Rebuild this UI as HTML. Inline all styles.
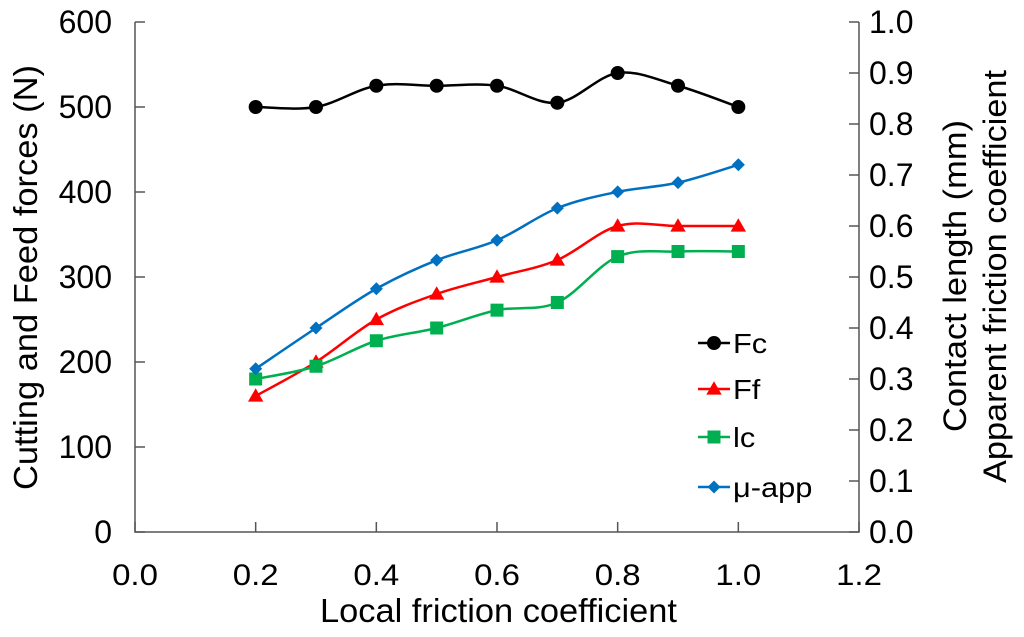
<!DOCTYPE html>
<html><head><meta charset="utf-8"><style>
html,body{margin:0;padding:0;background:#fff;}
svg{display:block;font-family:"Liberation Sans",Arial,sans-serif;}
</style></head><body>
<svg id="chart" width="1024" height="637" viewBox="0 0 1024 637"></svg>
<script>
const xCategories=[0.2,0.3,0.4,0.5,0.6,0.7,0.8,0.9,1.0];
const fcValues=[500,500,525,525,525,505,540,525,500];
const ffValues=[160,200,250,280,300,320,360,360,360];
const lcValues=[0.30,0.325,0.375,0.40,0.435,0.45,0.54,0.55,0.55];
const muValues=[0.32,0.40,0.477,0.533,0.572,0.635,0.667,0.685,0.72];
const xTicks=["0.0","0.2","0.4","0.6","0.8","1.0","1.2"];
const yLeftTicks=["0","100","200","300","400","500","600"];
const yRightTicks=["0.0","0.1","0.2","0.3","0.4","0.5","0.6","0.7","0.8","0.9","1.0"];

const L=135,R=859,T=22,B=532;
const xs=v=>L+(v/1.2)*(R-L);
const yl=v=>B-(v/600)*(B-T);
const yr=v=>B-(v/1.0)*(B-T);
const svg=document.getElementById('chart');
const NS='http://www.w3.org/2000/svg';
function mk(tag,attrs,parent){const e=document.createElementNS(NS,tag);for(const k in attrs)e.setAttribute(k,attrs[k]);(parent||svg).appendChild(e);return e;}

const ax=mk('g',{});


mk('path',{d:`M${L},${T}V${B}H${R}V${T}`,fill:'none',stroke:'#555','stroke-width':1.5},ax);
xTicks.forEach((t,i)=>{const x=xs(i*0.2);
 mk('line',{x1:x,x2:x,y1:B,y2:B-10,stroke:'#555','stroke-width':1.5},ax);
 const tx=mk('text',{transform:`translate(${x},${B+53}) scale(1.1,1)`,'text-anchor':'middle','font-size':30,fill:'#000'},ax);tx.textContent=t;
 
 });
yLeftTicks.forEach((t,i)=>{const y=yl(i*100);
 mk('line',{x1:L,x2:L+10,y1:y,y2:y,stroke:'#555','stroke-width':1.5},ax);
 const tx=mk('text',{x:112,y:y+11,'text-anchor':'end','font-size':32,fill:'#000'},ax);tx.textContent=t;
 
 });
yRightTicks.forEach((t,i)=>{const y=yr(i*0.1);
 mk('line',{x1:R,x2:R-10,y1:y,y2:y,stroke:'#555','stroke-width':1.5},ax);
 const tx=mk('text',{x:869,y:y+11,'text-anchor':'start','font-size':32,fill:'#000'},ax);tx.textContent=t;
 
 });

let t1=mk('text',{x:320,y:622,'font-size':33,textLength:357,lengthAdjust:'spacingAndGlyphs'});t1.textContent='Local friction coefficient';


let t2=mk('text',{x:0,y:0,'font-size':33,textLength:425,lengthAdjust:'spacingAndGlyphs',transform:`translate(37,490) rotate(-90)`});t2.textContent='Cutting and Feed forces (N)';


let t3=mk('text',{x:0,y:0,'font-size':32,textLength:312,lengthAdjust:'spacingAndGlyphs',transform:`translate(966,432) rotate(-90)`});t3.textContent='Contact length (mm)';


let t4=mk('text',{x:0,y:0,'font-size':32,textLength:413,lengthAdjust:'spacingAndGlyphs',transform:`translate(1006,483) rotate(-90)`});t4.textContent='Apparent friction coefficient';



function smooth(pts){let d=`M${pts[0][0]},${pts[0][1]}`;
 for(let i=0;i<pts.length-1;i++){const p0=pts[i-1]||pts[i],p1=pts[i],p2=pts[i+1],p3=pts[i+2]||p2;
  const c1=[p1[0]+(p2[0]-p0[0])/6,p1[1]+(p2[1]-p0[1])/6],c2=[p2[0]-(p3[0]-p1[0])/6,p2[1]-(p3[1]-p1[1])/6];
  d+=`C${c1[0]},${c1[1]} ${c2[0]},${c2[1]} ${p2[0]},${p2[1]}`;}return d;}
function marker(g,type,x,y,col,s){
 if(type==='circle')mk('circle',{cx:x,cy:y,r:s,fill:col},g);
 else if(type==='tri')mk('polygon',{points:`${x},${y-s*1.1} ${x+s*1.1},${y+s*0.8} ${x-s*1.1},${y+s*0.8}`,fill:col},g);
 else if(type==='sq')mk('rect',{x:x-s,y:y-s,width:2*s,height:2*s,fill:col},g);
 else mk('polygon',{points:`${x},${y-s} ${x+s},${y} ${x},${y+s} ${x-s},${y}`,fill:col},g);}
const series=[
 {name:'Fc',vals:fcValues,f:yl,col:'#000',m:'circle',s:7,ly:343},
 {name:'Ff',vals:ffValues,f:yl,col:'#ff0000',m:'tri',s:7,ly:389},
 {name:'lc',vals:lcValues,f:yr,col:'#00b050',m:'sq',s:6.5,ly:437},
 {name:'μ-app',vals:muValues,f:yr,col:'#0070c0',m:'dia',s:6.5,ly:487}];
series.forEach(sr=>{
 const g=mk('g',{});
 
 
 const pts=xCategories.map((c,i)=>[xs(c),sr.f(sr.vals[i])]);
 mk('path',{d:smooth(pts),fill:'none',stroke:sr.col,'stroke-width':2.5},g);
 pts.forEach(p=>marker(g,sr.m,p[0],p[1],sr.col,sr.s));
 const lg=mk('g',{});
 
 
 mk('line',{x1:698,x2:730,y1:sr.ly,y2:sr.ly,stroke:sr.col,'stroke-width':2.5},lg);
 marker(lg,sr.m,714,sr.ly,sr.col,sr.s);
 const tx=mk('text',{transform:`translate(733,${sr.ly+10}) scale(1.1,1)`,'font-size':28},lg);tx.textContent=sr.name;
});
</script>
</body></html>
